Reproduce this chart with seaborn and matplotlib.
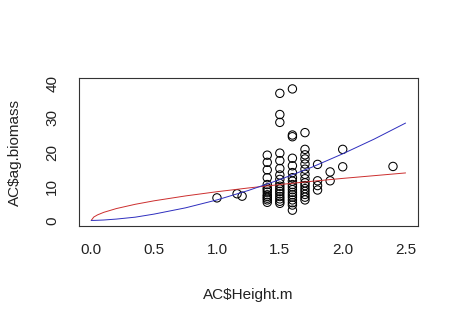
import matplotlib
matplotlib.use("Agg")
import matplotlib.pyplot as plt
import seaborn as sns
import pandas as pd

# Observed plant heights (m) and the above-ground biomass measured at each height
heights = [1.0, 1.16, 1.2, 1.4, 1.5, 1.6, 1.7, 1.8, 1.9, 2.0, 2.4]
biomass_by_height = [
    [6.6],
    [7.8],
    [7.1],
    [19.1, 17.0, 14.8, 12.5, 10.5, 9.5, 9.0, 8.3, 7.5, 7.0, 6.5, 6.0, 5.3],
    [37.2, 31.0, 28.7, 19.7, 17.5, 15.2, 13.3, 12.0, 10.8, 10.0, 9.2, 8.5,
     7.8, 7.0, 6.3, 5.6, 5.0],
    [38.5, 25.0, 24.5, 18.2, 16.0, 14.0, 12.5, 11.5, 10.5, 9.8, 9.0, 8.2,
     7.5, 6.8, 6.0, 5.2, 4.5, 3.0],
    [25.7, 20.8, 19.2, 18.0, 16.5, 15.0, 13.5, 12.2, 11.0, 10.2, 9.3, 8.5,
     7.6, 6.8, 6.0],
    [16.4, 11.6, 10.2, 8.9],
    [14.2, 11.6],
    [20.8, 15.7],
    [15.8],
]

# Fitted model curves evaluated along the height axis
curve_x = [0.0, 0.02, 0.05, 0.1, 0.2, 0.35, 0.5, 0.75, 1.0, 1.25, 1.5, 1.75,
           2.0, 2.25, 2.5]
red_curve = [0.0, 0.98, 1.62, 2.37, 3.47, 4.72, 5.74, 7.17, 8.4, 9.5, 10.5,
             11.43, 12.3, 13.1, 13.9]
blue_curve = [0.0, 0.0, 0.04, 0.12, 0.39, 0.95, 1.85, 3.68, 6.0, 8.77, 11.95,
              15.5, 19.5, 23.8, 28.5]

x_ticks = [0.0, 0.5, 1.0, 1.5, 2.0, 2.5]
y_ticks = [0, 10, 20, 30, 40]

AC = pd.DataFrame(
    [(h, b) for h, col in zip(heights, biomass_by_height) for b in col],
    columns=["Height.m", "ag.biomass"],
)
curves = pd.DataFrame({"x": curve_x, "red": red_curve, "blue": blue_curve})

sns.set_style("white")
plt.rcParams["font.family"] = ["Liberation Sans", "DejaVu Sans"]

fig = plt.figure(figsize=(4.6, 3.25), dpi=100)
ax = fig.add_axes([0.171, 0.305, 0.738, 0.454])

sns.scatterplot(data=AC, x="Height.m", y="ag.biomass", ax=ax, marker="o",
                s=36, facecolors="none", edgecolor="black", linewidth=0.75)
sns.lineplot(data=curves, x="x", y="red", ax=ax, color="#cc2e2e",
             linewidth=0.7, estimator=None, sort=False)
sns.lineplot(data=curves, x="x", y="blue", ax=ax, color="#2e2ebe",
             linewidth=0.7, estimator=None, sort=False)

ax.set_xlim(-0.1, 2.6)
ax.set_ylim(-1.6, 41.6)
ax.set_xticks(x_ticks)
ax.set_xticklabels([f"{t:.1f}" for t in x_ticks])
ax.set_yticks(y_ticks)
ax.set_yticklabels([str(t) for t in y_ticks], rotation=90, va="center")

for sp in ax.spines.values():
    sp.set_visible(True)
    sp.set_color("#333333")
    sp.set_linewidth(0.8)

ax.tick_params(axis="both", direction="out", length=6, width=0.8,
               color="#333333", labelsize=11, labelcolor="#222222")
ax.tick_params(axis="x", pad=6)
ax.tick_params(axis="y", pad=8)

ax.set_xlabel(r"AC\$Height.m", fontsize=11, color="#222222", labelpad=23)
ax.set_ylabel(r"AC\$ag.biomass", fontsize=11, color="#222222", labelpad=17)

fig.savefig("out.png", dpi=100, facecolor="white")
